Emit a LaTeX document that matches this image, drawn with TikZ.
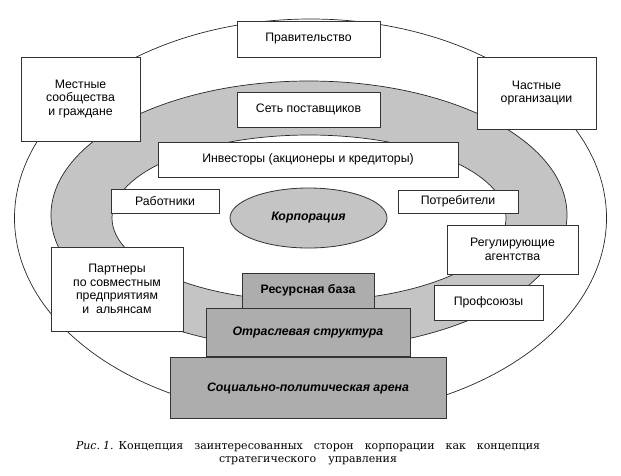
\documentclass[tikz,border=0pt]{standalone}
\usepackage{fontspec}
\setmainfont{Liberation Sans}
\newfontfamily\capfont{DejaVu Serif}
\usetikzlibrary{positioning, shapes.geometric}
\definecolor{ringgray}{HTML}{C4C4C4}
\definecolor{pyrgray}{HTML}{ADADAD}
\definecolor{linegray}{HTML}{333333}

\begin{document}
\begin{tikzpicture}[x=1pt, y=-1pt,
                    boxnode/.style={rectangle, draw=linegray, fill=white, line width=0.9pt, align=center, inner sep=0pt, font=\fontsize{12.3}{13.6}\selectfont},
                    pyrnode/.style={rectangle, draw=linegray, fill=pyrgray, line width=0.9pt, inner sep=0pt, font=\fontsize{12.3}{13.6}\selectfont\bfseries\itshape},
                    corpnode/.style={ellipse, draw=linegray, fill=ringgray, line width=0.8pt, inner sep=0pt, font=\fontsize{12.3}{13.6}\selectfont\bfseries\itshape},
                    ringline/.style={draw=black!85, line width=0.7pt},
                ]
                    \useasboundingbox (0,0) rectangle (621,475);

                    %Rings
                    \draw[ringline, fill=white] (310.5,218) ellipse [x radius=296pt, y radius=199pt];
                    \draw[ringline, fill=ringgray] (309,215) ellipse [x radius=258pt, y radius=134pt];
                    \draw[ringline, fill=white] (309,218) ellipse [x radius=197pt, y radius=83pt];

                    %Nodes
                    \node[boxnode, minimum width=143pt, minimum height=36pt](gov) at (308.5,39) {Правительство};
                    \node[boxnode, minimum width=119pt, minimum height=84pt](local) at (80.5,99) {Местные\\сообщества\\и граждане};
                    \node[boxnode, minimum width=119pt, minimum height=72pt](priv) at (536.5,93) {Частные\\организации};
                    \node[boxnode, minimum width=143pt, minimum height=35pt](supp) at (308.5,109.5) {Сеть поставщиков};
                    \node[boxnode, minimum width=300pt, minimum height=35pt](inv) at (308,159.5) {Инвесторы (акционеры и кредиторы)};
                    \node[boxnode, minimum width=108pt, minimum height=24pt](work) at (165,201) {Работники};
                    \node[boxnode, minimum width=120pt, minimum height=23pt](cons) at (458,201.5) {Потребители};
                    \node[corpnode, minimum width=157pt, minimum height=60pt](corp) at (308.5,218) {Корпорация};
                    \node[boxnode, minimum width=131pt, minimum height=49pt](reg) at (512.5,249.5) {Регулирующие\\агентства};
                    \node[boxnode, minimum width=109pt, minimum height=35pt](union) at (488.5,302.5) {Профсоюзы};
                    \node[boxnode, minimum width=132pt, minimum height=84pt](partn) at (117,289) {Партнеры\\по совместным\\предприятиям\\и\ \ альянсам};

                    %Pyramid
                    \node[pyrnode, minimum width=132pt, minimum height=35pt, font=\fontsize{12.3}{13.6}\selectfont\bfseries](res) at (308,290.5) {Ресурсная база};
                    \node[pyrnode, minimum width=204pt, minimum height=48pt](ind)[below=0pt of res] {Отраслевая структура};
                    \node[pyrnode, minimum width=276pt, minimum height=61pt](soc)[below=0pt of ind] {Социально-политическая арена};

                    %Caption
                    \node[align=center, inner sep=0pt, font=\capfont\fontsize{11}{13.5}\selectfont](cap) at (308,453)
                        {\makebox[464pt][s]{\textit{Рис.\kern3pt1.}\kern5pt Концепция заинтересованных сторон корпорации как концепция}\\
                         \makebox[178pt][s]{стратегического управления}};
                \end{tikzpicture}
\end{document}
